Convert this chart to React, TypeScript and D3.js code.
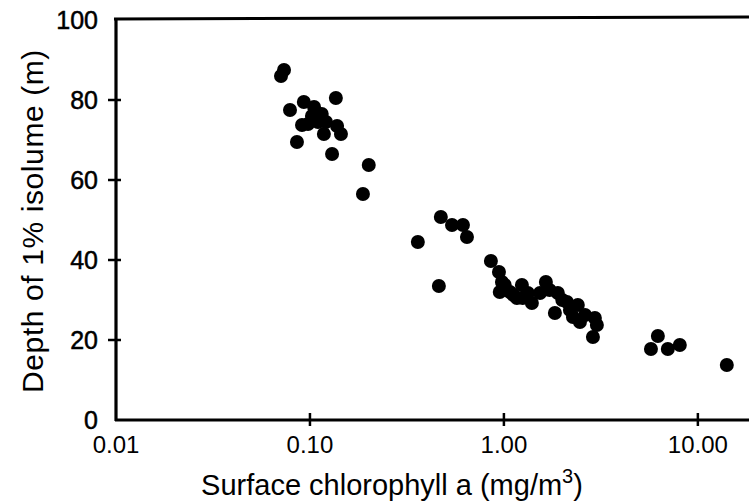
import React from "react";
import * as d3 from "d3";

const chlorophyll: number[] = [
  0.0709, 0.0735, 0.0789, 0.093, 0.136, 0.0857, 0.130, 0.1445, 0.118, 0.091,
  0.105, 0.1024, 0.115, 0.110, 0.0977, 0.138, 0.121, 0.201, 0.1876,
  0.360, 0.473, 0.540, 0.615, 0.645, 0.462,
  0.857, 0.943, 0.977, 0.952, 1.074, 1.238, 1.167, 1.329, 1.394, 1.535, 1.646,
  1.897, 1.832, 2.113, 2.405, 2.27, 2.466, 2.944, 2.877, 3.015, 2.19, 1.25,
  1.01, 1.28, 1.72, 2.0, 2.62, 1.12,
  6.22, 5.73, 7.0, 8.07, 14.1,
];
const depth: number[] = [
  86, 87.5, 77.5, 79.5, 80.5, 69.5, 66.5, 71.5, 71.5, 73.75,
  78.25, 76, 76.5, 74.5, 74, 73.5, 74.5, 63.75, 56.5,
  44.5, 50.75, 48.75, 48.75, 45.75, 33.5,
  39.75, 37, 34.5, 32, 32, 33.75, 30.5, 31.75, 29.25, 31.75, 34.5,
  31.75, 26.75, 29.5, 28.75, 25.75, 24.5, 25.5, 20.75, 23.75, 27.5, 30.5,
  33.75, 30.75, 32.5, 30, 26.25, 31.25,
  21, 17.75, 17.75, 18.75, 13.75,
];
const xTicks: number[] = [0.01, 0.1, 1, 10];
const xTickLabels: string[] = ["0.01", "0.10", "1.00", "10.00"];
const yTicks: number[] = [0, 20, 40, 60, 80, 100];

const W = 749;
const H = 503;
const left = 116;
const right = 745;
const top = 20;
const bottom = 420;

export default function App() {
  const x = d3.scaleLog().domain([0.01, 17.5]).range([left, right]);
  const y = d3.scaleLinear().domain([0, 100]).range([bottom, top]);
  const font = "'Liberation Sans', Arial, sans-serif";
  return (
    <svg
      width={W}
      height={H}
      style={{ position: "absolute", left: 0, top: 0, background: "#fff" }}
    >
      {/* top frame line */}
      <line x1={left - 2} x2={W} y1={y(100) - 1} y2={y(100) - 3} stroke="#000" strokeWidth={3} />
      {/* axes */}
      <line x1={left} x2={left} y1={y(100) - 2} y2={bottom + 1} stroke="#000" strokeWidth={3.2} />
      <line x1={left - 1} x2={W} y1={bottom} y2={bottom} stroke="#000" strokeWidth={3.2} />
      {yTicks.map((t) => (
        <g key={"y" + t}>
          {t > 0 && t < 100 && (
            <line x1={left - 8} x2={left + 5} y1={y(t)} y2={y(t)} stroke="#000" strokeWidth={2.5} />
          )}
          <text
            x={left - 18}
            y={y(t)}
            dy="0.36em"
            textAnchor="end"
            fontFamily={font}
            fontSize={25}
            stroke="#000"
            strokeWidth={0.5}
            fill="#000"
          >
            {t}
          </text>
        </g>
      ))}
      {xTicks.map((t, i) => (
        <g key={"x" + t}>
          {i > 0 && (
            <line x1={x(t)} x2={x(t)} y1={bottom - 7} y2={bottom + 6} stroke="#000" strokeWidth={2.5} />
          )}
          <text
            x={x(t)}
            y={453}
            textAnchor="middle"
            fontFamily={font}
            fontSize={24}
            fill="#000"
          >
            {xTickLabels[i]}
          </text>
        </g>
      ))}
      {chlorophyll.map((c, i) => (
        <circle key={i} cx={x(c)} cy={y(depth[i])} r={7} fill="#000" />
      ))}
      <text
        x={(197 + 587) / 2}
        y={495}
        textAnchor="middle"
        fontFamily={font}
        fontSize={29}
        fill="#000"
      >
        Surface chlorophyll a (mg/m<tspan dy={-12} fontSize={20}>3</tspan>
        <tspan dy={12}>)</tspan>
      </text>
      <text
        transform={`translate(43, 221) rotate(-90)`}
        textAnchor="middle"
        fontFamily={font}
        fontSize={30}
        letterSpacing={0.6}
        fill="#000"
      >
        Depth of 1% isolume (m)
      </text>
    </svg>
  );
}
